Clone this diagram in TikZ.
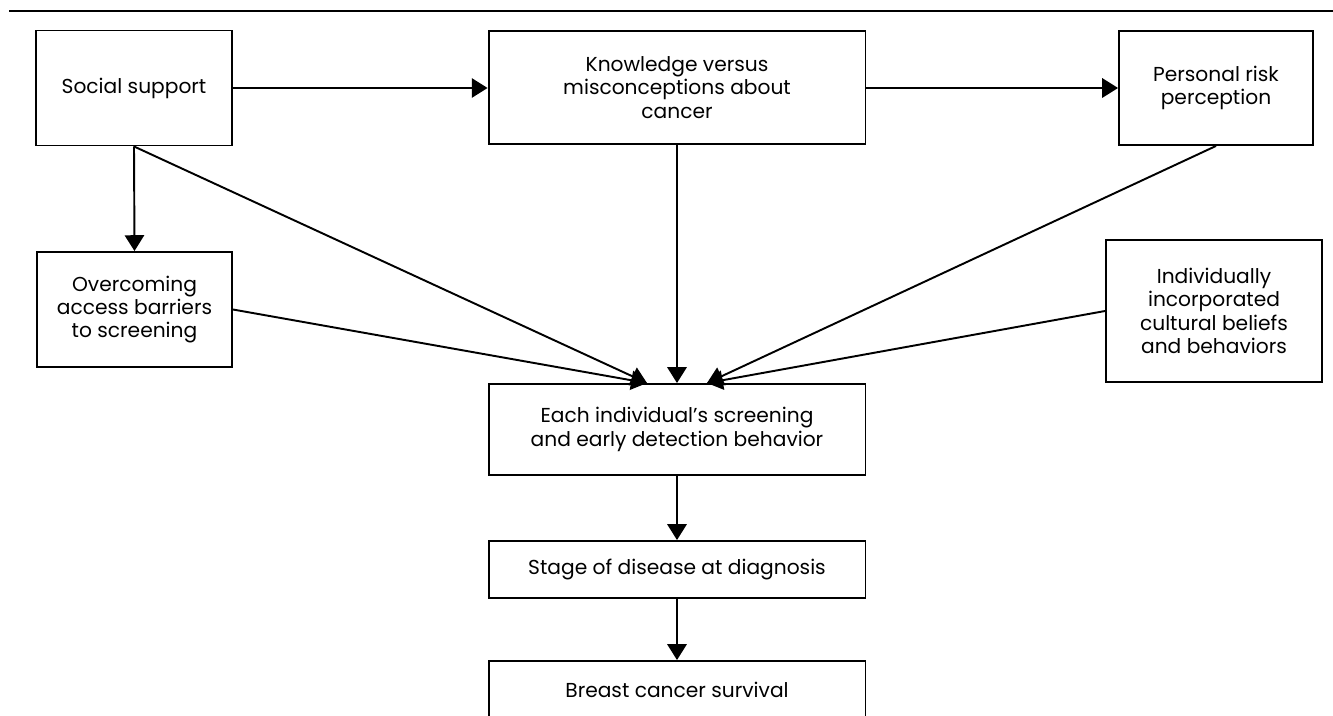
\documentclass[tikz,border=0pt]{standalone}
\usepackage{fontspec}
\setmainfont{Poppins}
\usepackage{tikz}
\usetikzlibrary{arrows.meta,positioning}
\newcommand{\boxfont}{\fontsize{11.5}{13.3}\selectfont}
\tikzset{
  box/.style={draw, line width=1.1pt, align=center, font=\boxfont, inner sep=2pt},
  wide/.style={box, minimum width=7.54cm},
  arrow/.style={-{Triangle[length=9pt,width=11pt]}, line width=1.1pt}
}

\begin{document}
\begin{tikzpicture}[x=0.02cm, y=-0.02cm]
    \useasboundingbox (0,0) rectangle (1333,716);
    \clip (0,0) rectangle (1333,716);
    % Rule on top
    \draw[line width=1.4pt] (9,11) -- (1333,11);
    % Top row
    \node[box, minimum width=3.92cm, minimum height=2.3cm] (social) at (134,88) {Social support};
    \node[wide, minimum height=2.26cm] (know) at (677,87.5) {Knowledge versus\\misconceptions about\\cancer};
    \node[box, minimum width=3.88cm, minimum height=2.28cm] (risk) at (1216,88) {Personal risk\\perception};
    % Side boxes
    \node[box, minimum width=3.9cm, minimum height=2.3cm] (barrier) at (134.5,309.5) {Overcoming\\access barriers\\to screening};
    \node[box, minimum width=4.32cm, minimum height=2.84cm] (culture) at (1214,311) {Individually\\incorporated\\cultural beliefs\\and behaviors};
    % Middle column
    \node[wide, minimum height=1.82cm] (behav) at (677,429.5) {Each individual's screening\\and early detection behavior};
    \node[wide, minimum height=1.14cm] (stage) at (677,569.5) {Stage of disease at diagnosis};
    \node[wide, minimum height=1.14cm] (surv) at (677,689.5) {Breast cancer survival};
    % Arrow ends on top of the behavior box
    \coordinate (inL) at ([xshift=-0.6cm]behav.north);
    \coordinate (inR) at ([xshift=0.6cm]behav.north);
    % Connectors
    \draw[arrow] (social.east) -- (social.east -| know.west);
    \draw[arrow] (know.east |- risk.west) -- (risk.west);
    \draw[arrow] (social.south) -- (barrier.north);
    \draw[arrow] (social.south) -- (inL);
    \draw[arrow] (barrier.east) -- (inL);
    \draw[arrow] (know.south) -- (behav.north);
    \draw[arrow] (risk.south) -- (inR);
    \draw[arrow] (culture.west) -- (inR);
    \draw[arrow] (behav) -- (stage);
    \draw[arrow] (stage) -- (surv);
\end{tikzpicture}
\end{document}
